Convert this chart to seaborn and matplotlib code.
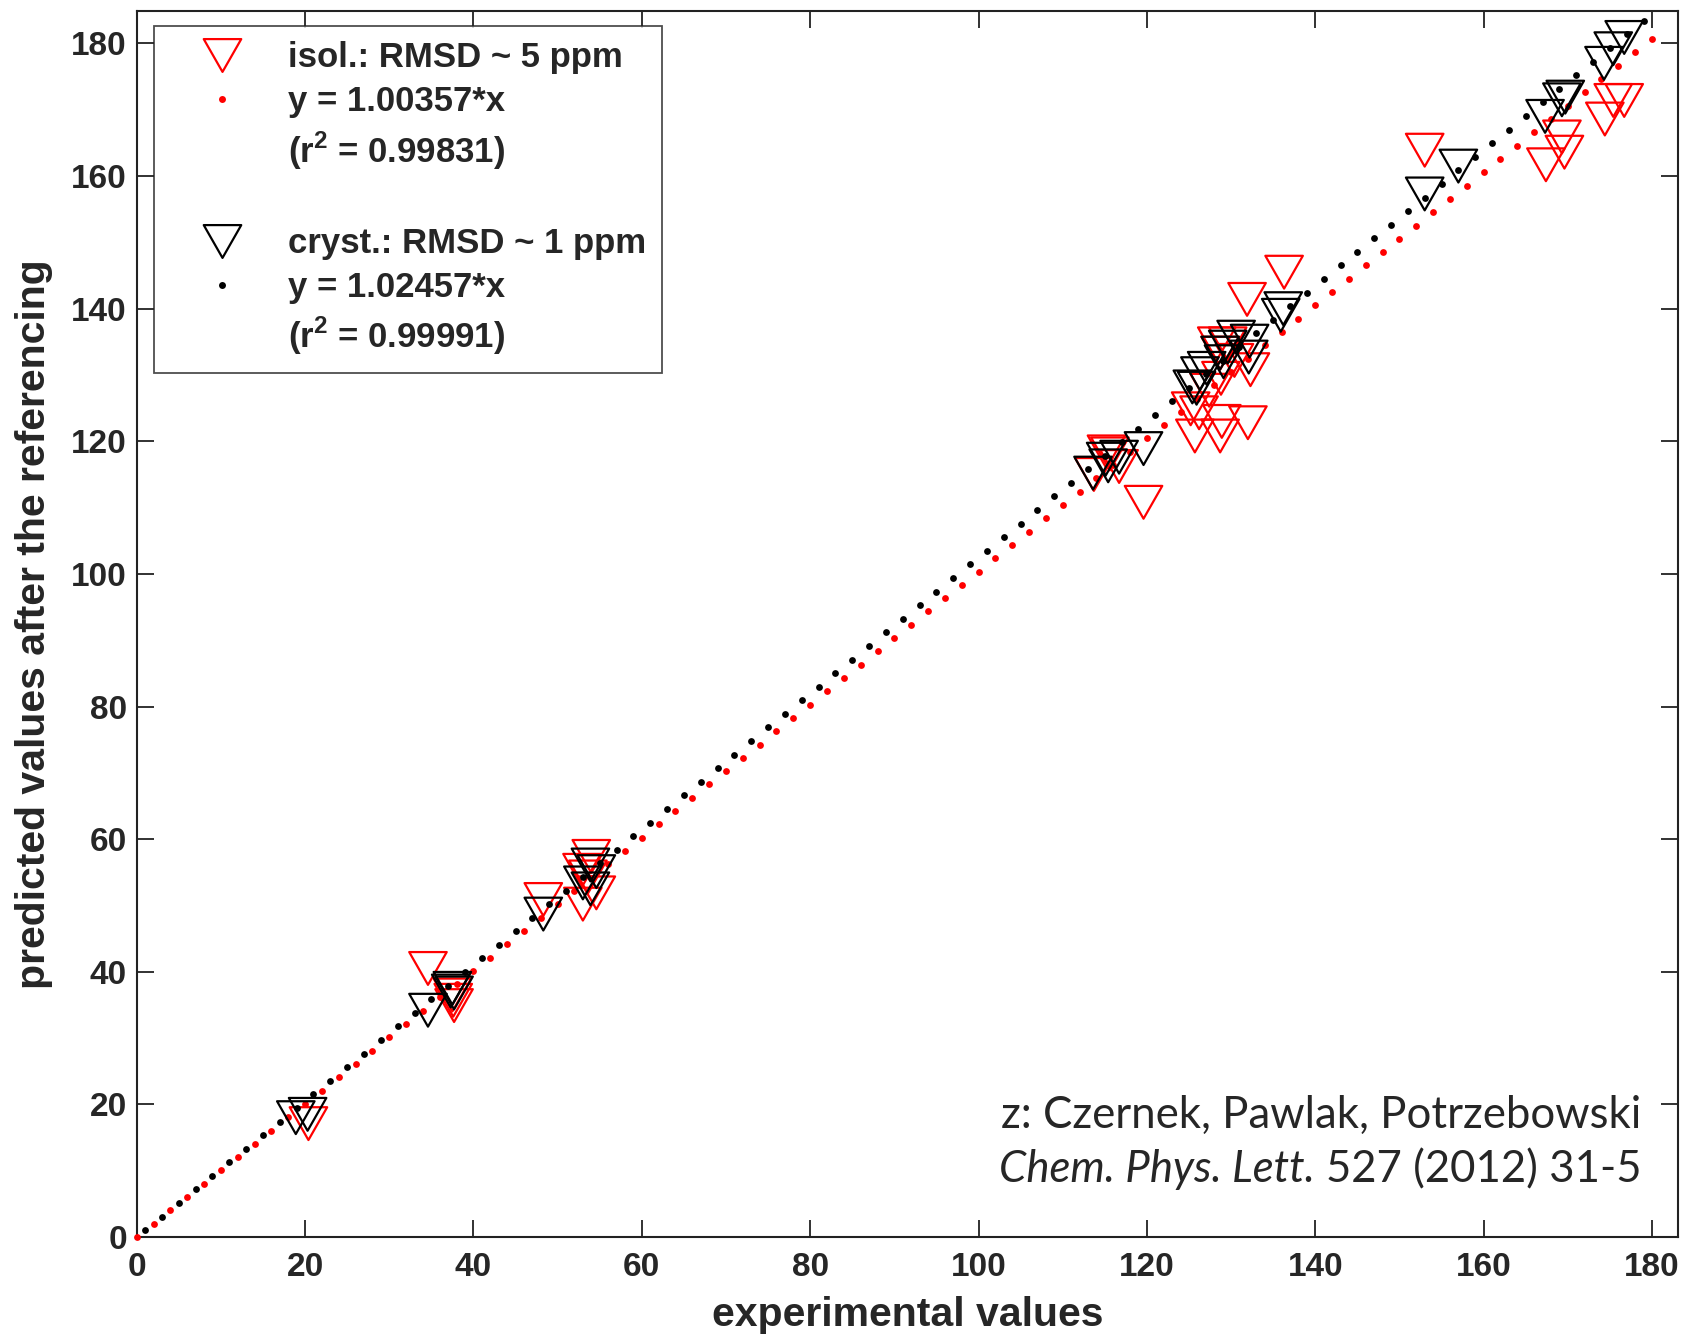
import numpy as np
import matplotlib
matplotlib.use("Agg")
import matplotlib.pyplot as plt
from matplotlib.lines import Line2D
from matplotlib.path import Path
import seaborn as sns

# isolated-molecule shifts (red) and crystal-lattice shifts (black), ppm
isol_x = [20.4, 34.6, 37.5, 37.6, 37.7, 48.3, 54.0, 52.9, 53.6, 54.6, 53.0,
          115.2, 115.6, 116.7, 113.7, 119.6, 136.3, 131.9,
          128.3, 129.6, 128.7, 130.4, 132.3, 128.8, 127.4,
          125.2, 126.2, 128.9, 132.0, 125.7, 128.7,
          153.0, 175.4, 176.7, 174.4, 169.3, 169.6, 167.4]
isol_y = [17.1, 40.5, 36.5, 35.7, 34.9, 50.9, 57.4, 55.3, 54.3, 51.9, 50.2,
          118.4, 118.1, 116.2, 115.0, 110.8, 145.5, 141.4,
          134.7, 134.7, 133.3, 132.2, 130.8, 129.5, 127.7,
          124.9, 124.3, 123.0, 122.8, 120.8, 120.8,
          163.9, 171.4, 171.4, 168.6, 165.9, 163.6, 161.7]

cryst_x = [18.9, 20.3, 34.6, 37.5, 37.3, 37.7, 48.3, 53.9, 54.6, 53.0, 53.9,
           119.6, 116.7, 115.1, 113.6, 115.4, 136.2, 135.9,
           130.6, 132.2, 129.6, 128.7, 132.1, 129.1, 127.1, 126.3, 125.4, 125.9,
           153.0, 157.0, 176.7, 175.4, 174.3, 169.7, 169.3, 167.3]
cryst_y = [18.0, 18.5, 34.2, 37.5, 37.1, 36.8, 48.7, 56.1, 55.1, 53.4, 52.5,
           118.9, 117.6, 117.3, 115.2, 116.3, 140.0, 139.0,
           135.7, 135.1, 134.2, 133.3, 132.7, 132.0, 131.0, 130.2, 128.2, 128.0,
           157.3, 161.5, 180.9, 179.2, 177.0, 171.9, 171.5, 169.0]

isol_slope = 1.00357
cryst_slope = 1.02457
isol_labels = ["isol.: RMSD ~ 5 ppm", "y = 1.00357*x", r"(r$^{\mathbf{2}}$ = 0.99831)"]
cryst_labels = ["cryst.: RMSD ~ 1 ppm", "y = 1.02457*x", r"(r$^{\mathbf{2}}$ = 0.99991)"]

ticks = list(range(0, 181, 20))

sns.set_style("ticks")
plt.rcParams["font.family"] = ["Liberation Sans", "DejaVu Sans"]
plt.rcParams["font.weight"] = "bold"
plt.rcParams["mathtext.fontset"] = "custom"
plt.rcParams["mathtext.rm"] = "Liberation Sans:bold"
plt.rcParams["mathtext.bf"] = "Liberation Sans:bold"

fig = plt.figure(figsize=(16.94, 13.34), dpi=100)
ax = fig.add_subplot(111)
fig.subplots_adjust(left=0.0807, right=0.9906, top=0.9918, bottom=0.0727)

# open downward triangle, a bit flatter than tall
tri = Path([(-1, 0.875), (1, 0.875), (0, -0.875), (-1, 0.875)],
           [Path.MOVETO, Path.LINETO, Path.LINETO, Path.CLOSEPOLY])
tri_s = 27 ** 2

# fitted lines drawn as dotted points, every 2 ppm
fit_red_x = np.arange(0, 181, 2)
fit_blk_x = np.arange(1, 180, 2)

sns.scatterplot(x=isol_x, y=isol_y, marker=tri, s=tri_s, facecolor="none",
                edgecolor="#ff0000", linewidth=1.6, ax=ax, zorder=2)
sns.scatterplot(x=fit_red_x, y=isol_slope * fit_red_x, color="#ff0000", s=24,
                linewidth=0, ax=ax, zorder=3, clip_on=False)
sns.scatterplot(x=cryst_x, y=cryst_y, marker=tri, s=tri_s, facecolor="none",
                edgecolor="black", linewidth=1.6, ax=ax, zorder=4)
sns.scatterplot(x=fit_blk_x, y=cryst_slope * fit_blk_x, color="black", s=24,
                linewidth=0, ax=ax, zorder=5)

ax.set_xlim(0, 183.1)
ax.set_ylim(0, 184.9)
ax.set_xticks(ticks)
ax.set_yticks(ticks)
ax.tick_params(direction="in", top=True, right=True, length=12, width=1.3,
               labelsize=24, color="#222222")
ax.tick_params(axis="x", pad=11)
ax.tick_params(axis="y", pad=7)
for sp in ax.spines.values():
    sp.set_visible(True)
    sp.set_linewidth(1.5)
    sp.set_color("#222222")

ax.set_xlabel("experimental values", fontsize=29.5, fontweight="bold")
ax.set_ylabel("predicted values after the referencing", fontsize=29.5,
              fontweight="bold")
ax.xaxis.set_label_coords(0.5, -0.048)
ax.yaxis.set_label_coords(-0.0545, 0.5)

blank = Line2D([], [], linestyle="none")
handles = [
    Line2D([], [], marker=tri, markersize=27, mfc="none", mec="#ff0000",
           mew=1.6, linestyle="none"),
    Line2D([], [], marker="o", markersize=5, mfc="#ff0000", mec="none",
           linestyle="none"),
    blank, blank,
    Line2D([], [], marker=tri, markersize=27, mfc="none", mec="black",
           mew=1.6, linestyle="none"),
    Line2D([], [], marker="o", markersize=5, mfc="black", mec="none",
           linestyle="none"),
    blank,
]
labels = isol_labels + [" "] + cryst_labels
leg = ax.legend(handles, labels, loc="upper left",
                bbox_to_anchor=(0.0114, 0.988), borderaxespad=0,
                prop=dict(family=["Liberation Sans", "DejaVu Sans"],
                          weight="bold", size=25),
                handlelength=3, handletextpad=0.4, borderpad=0.45,
                labelspacing=0.32, fancybox=False, frameon=True)
leg.get_frame().set_edgecolor("#222222")
leg.get_frame().set_linewidth(1.3)

# source note in the lower right corner
note_font = ["Lato", "DejaVu Sans"]
ax.text(0.976, 0.0995, "z: Czernek, Pawlak, Potrzebowski", transform=ax.transAxes,
        ha="right", va="center", fontsize=31.5, family=note_font,
        fontweight="normal")
t2 = ax.text(0.976, 0.0547, "527 (2012) 31-5", transform=ax.transAxes,
             ha="right", va="center", fontsize=31.5, family=note_font,
             fontweight="normal")
ax.annotate("Chem. Phys. Lett. ", xy=(0, 0.5), xycoords=t2, ha="right",
            va="center", fontsize=31.5, family=note_font, fontstyle="italic",
            fontweight="normal")

fig.savefig("out.png", dpi=100)
